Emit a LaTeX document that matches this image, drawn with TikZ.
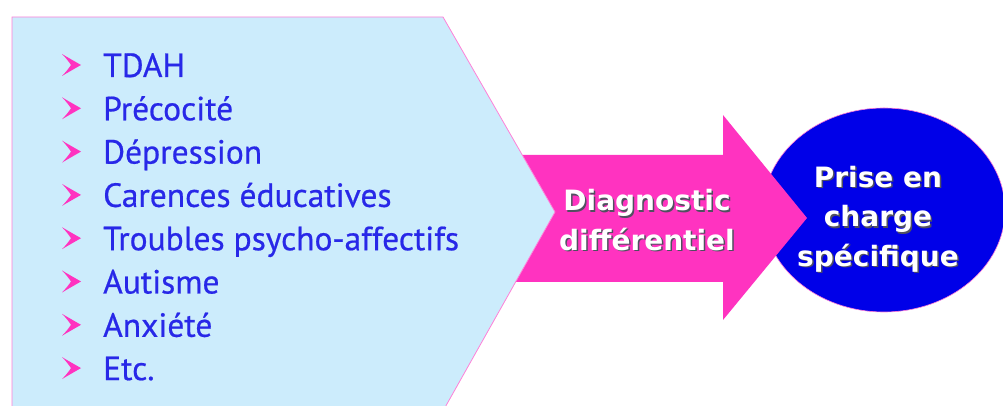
\documentclass[tikz,border=0pt]{standalone}
\usepackage{fontspec}
\usetikzlibrary{shapes.geometric}
\setmainfont[FakeBold=0.6]{PT Sans}
\newfontfamily\boldfam{DejaVu Sans}
\definecolor{pentfill}{HTML}{CCECFC}
\definecolor{pentline}{HTML}{FF80D8}
\definecolor{arrowpink}{HTML}{FF33C0}
\definecolor{ellblue}{HTML}{0000E8}
\definecolor{itemblue}{HTML}{2828E8}
\definecolor{shadowgrey}{HTML}{505060}
\begin{document}
\begin{tikzpicture}[x=1pt,y=1pt,
  item/.style={anchor=base west,inner sep=0pt,text=itemblue,font=\fontsize{33.5}{33}\selectfont},
  bigtxt/.style={inner sep=0pt,align=center,font=\boldfam\bfseries\fontsize{28}{39.5}\selectfont},
  bulletmark/.style={fill=arrowpink,draw=none}]
\useasboundingbox (0,0) rectangle (1003,406);
% ellipse
\node[ellipse,draw=pentline,line width=0.6pt,fill=ellblue,minimum width=242pt,minimum height=204pt,inner sep=0pt] (ell) at (884,196) {};
% arrow
\draw[fill=arrowpink,draw=none] (480,251) -- (723,251) -- (723,291) -- (807,188) -- (723,86) -- (723,124) -- (480,124) -- cycle;
% pentagon
\draw[fill=pentfill,draw=pentline,line width=0.8pt] (12,-5) -- (12,389) -- (443,389) -- (555,194) -- (443,-5);
% items
\foreach \t [count=\i from 0] in {TDAH,Précocité,Dépression,Carences éducatives,Troubles psycho-affectifs,Autisme,Anxiété,Etc.}{
  \pgfmathsetmacro{\yb}{406-77-43.3*\i}
  \node[item] (it\i) at (103,\yb) {\t};
  \pgfmathsetmacro{\yc}{\yb+12}
  \fill[bulletmark] (81,\yc) .. controls (74,\yc+4) and (67,\yc+8) .. (62,\yc+11) .. controls (66,\yc+7) and (69,\yc+3) .. (71,\yc) .. controls (69,\yc-3) and (66,\yc-7) .. (62,\yc-11) .. controls (67,\yc-8) and (74,\yc-4) .. (81,\yc) -- cycle;
}
% center texts
\node[bigtxt,text=shadowgrey] at (648.5,184.5) {Diagnostic\\différentiel};
\node[bigtxt,text=white] (diag) at (647,186) {Diagnostic\\différentiel};
\node[bigtxt,text=shadowgrey] at (879.5,185.5) {Prise en\\charge\\spécifique};
\node[bigtxt,text=white] (prise) at (878,187) {Prise en\\charge\\spécifique};
\end{tikzpicture}
\end{document}
